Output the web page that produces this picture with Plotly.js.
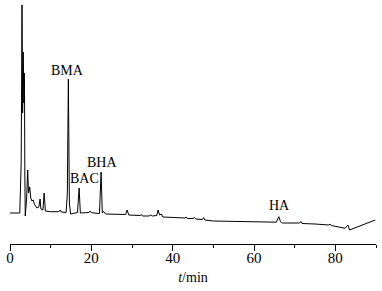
<!DOCTYPE html>
<html>
<head>
<meta charset="utf-8">
<script src="https://cdn.plot.ly/plotly-3.0.1.min.js"></script>
<style>html,body{margin:0;padding:0;background:#fff;}#chart{width:382px;height:291px;}</style>
</head>
<body>
<div id="chart"></div>
<script>
// Retention time (min)
var time = [0, 2.4, 2.75, 2.95, 3.1, 3.25, 3.4, 3.55, 3.65, 3.75, 4.1, 4.35, 4.55, 4.85, 5.1, 5.4, 5.7, 6.0, 6.6, 7.1, 7.4, 7.6, 8.1, 8.4, 8.7, 10, 12, 12.3, 12.6, 13.8, 14.1, 14.35, 14.6, 14.9, 16.6, 17.0, 17.3, 19.4, 19.7, 20, 22.0, 22.4, 22.7, 23.0, 23.5, 28.4, 28.8, 29.2, 32, 32.3, 32.6, 34.2, 34.5, 35, 36.1, 36.4, 36.8, 37.2, 37.6, 40, 43, 43.3, 43.6, 45, 45.3, 45.7, 47.3, 47.6, 47.9, 50, 55, 60, 65.5, 66.1, 66.5, 67, 71.2, 71.5, 71.8, 75, 78.4, 78.7, 79, 82.4, 83.1, 83.5, 89.8];
// Detector signal (arbitrary units)
var signal = [0, 0, 50, 208, 100, 161, 110, 140, 40, -3, 15, 43, 20, 26, 15, 12, 13, 9, 5, 6, 14, 4, 3, 20, 2, 1.3, 1.3, 3, 1, 0.5, 20, 134, 10, -1, 0.5, 25, 0, 0.5, 2, 0.3, -0.5, 41, 0, 1.5, -1, -1.5, 3, -2, -2.5, -1.5, -3, -3, -2, -3, -2.5, 3, -2, -1, -4, -4.5, -5, -4, -5.5, -5.5, -4.5, -6, -6.5, -4.5, -7, -8, -8.5, -9, -9.2, -3.7, -8.5, -10, -10, -8.5, -10.5, -11, -12, -11, -12.5, -15.3, -12, -17, -7];
// Peak labels
var peakNames = ["BMA", "BAC", "BHA", "HA"];
var labelTime = [14.1, 18.4, 22.6, 66.3];
var labelSignal = [143, 35, 51, 8];
var xTicks = [0, 20, 40, 60, 80];

var font = "'Liberation Serif', 'Times New Roman', serif";
var annotations = peakNames.map(function (n, i) {
  return {
    text: n, x: labelTime[i], y: labelSignal[i], xref: 'x', yref: 'y',
    showarrow: false, xanchor: 'center', yanchor: 'middle',
    font: {family: font, size: 14, color: '#000'}
  };
});

Plotly.newPlot('chart', [{
  x: time, y: signal, type: 'scatter', mode: 'lines',
  line: {color: '#000', width: 1}, hoverinfo: 'none'
}], {
  width: 382, height: 291,
  margin: {l: 10, r: 6, t: 3, b: 47},
  paper_bgcolor: '#fff', plot_bgcolor: '#fff',
  showlegend: false,
  xaxis: {
    range: [0, 90], tickvals: xTicks, ticktext: xTicks.map(String),
    ticks: 'outside', ticklen: 6, tickwidth: 1, tickcolor: '#000',
    ticklabelstandoff: -6,
    minor: {tickvals: [10, 30, 50, 70, 90], ticks: 'outside', ticklen: 3, tickwidth: 1, tickcolor: '#000', showgrid: false},
    showline: true, linecolor: '#000', linewidth: 1,
    showgrid: false, zeroline: false,
    tickfont: {family: font, size: 15, color: '#000'},
    title: {text: '<i>t</i>/min', font: {family: font, size: 14, color: '#000'}, standoff: 7}
  },
  yaxis: {range: [-31, 210], visible: false, showgrid: false, zeroline: false},
  annotations: annotations
}, {staticPlot: true, displayModeBar: false});
</script>
</body>
</html>
